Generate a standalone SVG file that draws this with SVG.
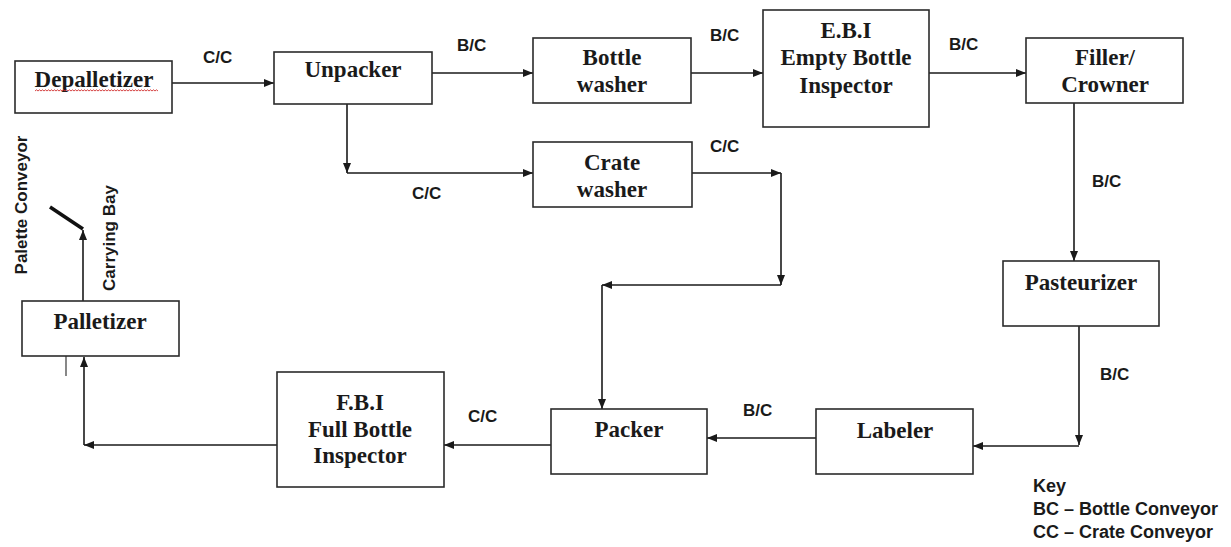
<svg xmlns="http://www.w3.org/2000/svg" width="1231" height="547" viewBox="0 0 1231 547">
<style>
  .box { fill: #ffffff; stroke: #2b2b2b; stroke-width: 1.6; }
  .nt { font-family: "Liberation Serif", "Times New Roman", serif; font-weight: bold; font-size: 23px; fill: #1a1a1a; text-anchor: middle; }
  .lb { font-family: "Liberation Sans", Arial, sans-serif; font-weight: bold; font-size: 17px; fill: #1a1a1a; }
  .key { font-family: "Liberation Sans", Arial, sans-serif; font-weight: bold; font-size: 18px; fill: #1a1a1a; }
  .ln { fill: none; stroke: #1a1a1a; stroke-width: 1.6; }
  .arr { marker-end: url(#ah); }
</style>
<defs>
  <marker id="ah" viewBox="0 0 10 8" refX="10" refY="4" markerWidth="10" markerHeight="8" markerUnits="userSpaceOnUse" orient="auto">
    <path d="M0,0 L10,4 L0,8 z" fill="#1a1a1a"/>
  </marker>
</defs>
<rect width="1231" height="547" fill="#ffffff"/>

<g id="connectors">
  <line class="ln arr" x1="172" y1="83" x2="274" y2="83"/>
  <line class="ln arr" x1="432" y1="73" x2="533" y2="73"/>
  <line class="ln arr" x1="691" y1="73" x2="763" y2="73"/>
  <line class="ln arr" x1="929" y1="73" x2="1026" y2="73"/>
  <line class="ln arr" x1="1074" y1="103" x2="1074" y2="261"/>
  <line class="ln arr" x1="1079" y1="326" x2="1079" y2="445"/>
  <line class="ln arr" x1="1079" y1="446" x2="973" y2="446"/>
  <line class="ln arr" x1="816" y1="438" x2="707" y2="438"/>
  <line class="ln arr" x1="551" y1="445" x2="444" y2="445"/>
  <line class="ln arr" x1="277" y1="445" x2="84" y2="445"/>
  <line class="ln arr" x1="84" y1="445" x2="84" y2="357"/>
  <line class="ln arr" x1="347" y1="104" x2="347" y2="173"/>
  <line class="ln arr" x1="347" y1="173" x2="533" y2="173"/>
  <line class="ln arr" x1="692" y1="173" x2="781" y2="173"/>
  <line class="ln arr" x1="781" y1="173" x2="781" y2="285"/>
  <line class="ln arr" x1="781" y1="285" x2="602" y2="285"/>
  <line class="ln arr" x1="602" y1="285" x2="602" y2="409"/>
  <line class="ln arr" x1="83" y1="301" x2="83" y2="230"/>
  <line x1="83" y1="229" x2="50" y2="207" stroke="#111111" stroke-width="3.5"/>
  <line x1="66" y1="352" x2="66" y2="376" stroke="#555555" stroke-width="1.4"/>
</g>

<g id="labels">
  <text class="lb" x="203" y="63">C/C</text>
  <text class="lb" x="457" y="51">B/C</text>
  <text class="lb" x="710" y="41">B/C</text>
  <text class="lb" x="949" y="50">B/C</text>
  <text class="lb" x="1092" y="187">B/C</text>
  <text class="lb" x="412" y="199">C/C</text>
  <text class="lb" x="710" y="152">C/C</text>
  <text class="lb" x="1100" y="380">B/C</text>
  <text class="lb" x="743" y="416">B/C</text>
  <text class="lb" x="468" y="422">C/C</text>
  <text class="lb" transform="translate(27,205) rotate(-90)" text-anchor="middle">Palette Conveyor</text>
  <text class="lb" transform="translate(115,238) rotate(-90)" text-anchor="middle">Carrying Bay</text>
</g>

<g id="key">
  <text class="key" x="1033" y="492">Key</text>
  <text class="key" x="1033" y="515">BC – Bottle Conveyor</text>
  <text class="key" x="1033" y="538">CC – Crate Conveyor</text>
</g>

<g id="depalletizer">
  <rect class="box" x="15" y="61" width="157" height="52"/>
  <text class="nt" x="94" y="87">Depalletizer</text>
  <path d="M35,91 l1.5,-1.2 1.5,1.2 1.5,-1.2 1.5,1.2 1.5,-1.2 1.5,1.2 1.5,-1.2 1.5,1.2 1.5,-1.2 1.5,1.2 1.5,-1.2 1.5,1.2 1.5,-1.2 1.5,1.2 1.5,-1.2 1.5,1.2 1.5,-1.2 1.5,1.2 1.5,-1.2 1.5,1.2 1.5,-1.2 1.5,1.2 1.5,-1.2 1.5,1.2 1.5,-1.2 1.5,1.2 1.5,-1.2 1.5,1.2 1.5,-1.2 1.5,1.2 1.5,-1.2 1.5,1.2 1.5,-1.2 1.5,1.2 1.5,-1.2 1.5,1.2 1.5,-1.2 1.5,1.2 1.5,-1.2 1.5,1.2 1.5,-1.2 1.5,1.2 1.5,-1.2 1.5,1.2 1.5,-1.2 1.5,1.2 1.5,-1.2 1.5,1.2 1.5,-1.2 1.5,1.2 1.5,-1.2 1.5,1.2 1.5,-1.2 1.5,1.2 1.5,-1.2 1.5,1.2 1.5,-1.2 1.5,1.2 1.5,-1.2 1.5,1.2 1.5,-1.2 1.5,1.2 1.5,-1.2 1.5,1.2 1.5,-1.2 1.5,1.2 1.5,-1.2 1.5,1.2 1.5,-1.2 1.5,1.2 1.5,-1.2 1.5,1.2 1.5,-1.2 1.5,1.2 1.5,-1.2 1.5,1.2 1.5,-1.2 1.5,1.2 1.5,-1.2 1.5,1.2 1.5,-1.2 1.5,1.2" fill="none" stroke="#d03030" stroke-width="0.9"/>
</g>

<g id="unpacker">
  <rect class="box" x="274" y="52" width="158" height="52"/>
  <text class="nt" x="353" y="77">Unpacker</text>
</g>

<g id="bottle-washer">
  <rect class="box" x="533" y="38" width="158" height="65"/>
  <text class="nt" x="612" y="65">Bottle</text>
  <text class="nt" x="612" y="92">washer</text>
</g>

<g id="ebi">
  <rect class="box" x="763" y="10" width="166" height="117"/>
  <text class="nt" x="846" y="38">E.B.I</text>
  <text class="nt" x="846" y="65">Empty Bottle</text>
  <text class="nt" x="846" y="93">Inspector</text>
</g>

<g id="filler-crowner">
  <rect class="box" x="1026" y="38" width="157" height="65"/>
  <text class="nt" x="1105" y="65">Filler/</text>
  <text class="nt" x="1105" y="92">Crowner</text>
</g>

<g id="crate-washer">
  <rect class="box" x="533" y="142" width="159" height="65"/>
  <text class="nt" x="612" y="170">Crate</text>
  <text class="nt" x="612" y="197">washer</text>
</g>

<g id="pasteurizer">
  <rect class="box" x="1003" y="261" width="156" height="65"/>
  <text class="nt" x="1081" y="290">Pasteurizer</text>
</g>

<g id="labeler">
  <rect class="box" x="816" y="409" width="157" height="65"/>
  <text class="nt" x="895" y="438">Labeler</text>
</g>

<g id="packer">
  <rect class="box" x="551" y="409" width="156" height="65"/>
  <text class="nt" x="629" y="437">Packer</text>
</g>

<g id="fbi">
  <rect class="box" x="277" y="372" width="167" height="115"/>
  <text class="nt" x="360" y="410">F.B.I</text>
  <text class="nt" x="360" y="437">Full Bottle</text>
  <text class="nt" x="360" y="463">Inspector</text>
</g>

<g id="palletizer">
  <rect class="box" x="22" y="301" width="157" height="55"/>
  <text class="nt" x="100" y="329">Palletizer</text>
</g>
</svg>
